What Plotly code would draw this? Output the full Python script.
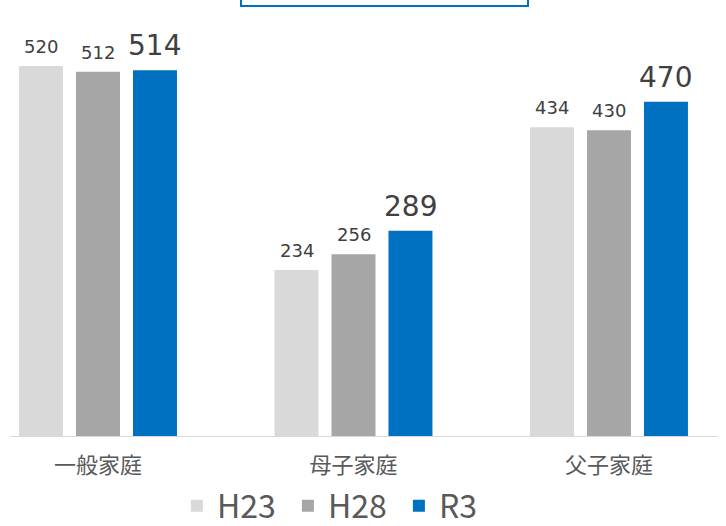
import plotly.graph_objects as go

# Household categories and survey values
categories = ["一般家庭", "母子家庭", "父子家庭"]
h23 = [520, 234, 434]
h28 = [512, 256, 430]
r3 = [514, 289, 470]

series = [
    ("H23", h23, "#d9d9d9", 18, 7),
    ("H28", h28, "#a6a6a6", 18, 7),
    ("R3", r3, "#0070c0", 28, 6),
]

FONT = "Noto Sans CJK JP"
LABEL_FONT = "DejaVu Sans"
W, H = 726, 526

# bar geometry (plot area spans the full figure width)
X_RANGE = [-0.3836, 2.458]
BARGAP = 0.331
BARGROUPGAP = 0.228
cat_px = W / (X_RANGE[1] - X_RANGE[0])
slot_px = cat_px * (1 - BARGAP) / len(series)

fig = go.Figure()
annotations = []
for k, (name, vals, color, tsize, lift) in enumerate(series):
    fig.add_trace(go.Bar(
        name=name,
        x=categories,
        y=vals,
        marker=dict(color=color, line=dict(width=0)),
        cliponaxis=False,
    ))
    # value label above each bar
    for cat, v in zip(categories, vals):
        annotations.append(dict(
            x=cat, y=v, xref="x", yref="y",
            text=str(v), showarrow=False,
            xanchor="center", yanchor="bottom",
            xshift=(k - (len(series) - 1) / 2) * slot_px,
            yshift=lift,
            font=dict(family=LABEL_FONT, size=tsize, color="#404040"),
        ))

fig.update_layout(
    width=W,
    height=H,
    margin=dict(l=0, r=0, t=30, b=89, autoexpand=False),
    paper_bgcolor="white",
    plot_bgcolor="white",
    barmode="group",
    bargap=BARGAP,
    bargroupgap=BARGROUPGAP,
    font=dict(family=FONT, color="#595959"),
    showlegend=True,
    legend=dict(
        orientation="h",
        xref="container",
        yref="container",
        x=0.473,
        xanchor="center",
        y=0.038,
        yanchor="middle",
        entrywidth=66,
        entrywidthmode="pixels",
        font=dict(family=FONT, size=32, color="#595959"),
        itemclick=False,
        traceorder="normal",
        tracegroupgap=0,
        bgcolor="rgba(0,0,0,0)",
    ),
    xaxis=dict(
        range=X_RANGE,
        showgrid=False,
        showline=False,
        zeroline=False,
        ticks="",
        ticklabelstandoff=13,
        tickfont=dict(family=FONT, size=22, color="#595959"),
    ),
    yaxis=dict(
        range=[0, 570.4],
        visible=False,
        showgrid=False,
        zeroline=False,
    ),
    annotations=annotations,
    shapes=[
        # category axis baseline
        dict(type="line", xref="paper", yref="y", x0=10 / W, x1=718 / W,
             y0=0, y1=0, line=dict(color="#d9d9d9", width=2)),
        # title frame at the top
        dict(type="rect", xref="paper", yref="paper",
             x0=241 / W, x1=528 / W, y0=1.059, y1=1.12,
             line=dict(color="#0070c0", width=2), fillcolor="rgba(0,0,0,0)"),
    ],
)

fig.write_html("out.html")
